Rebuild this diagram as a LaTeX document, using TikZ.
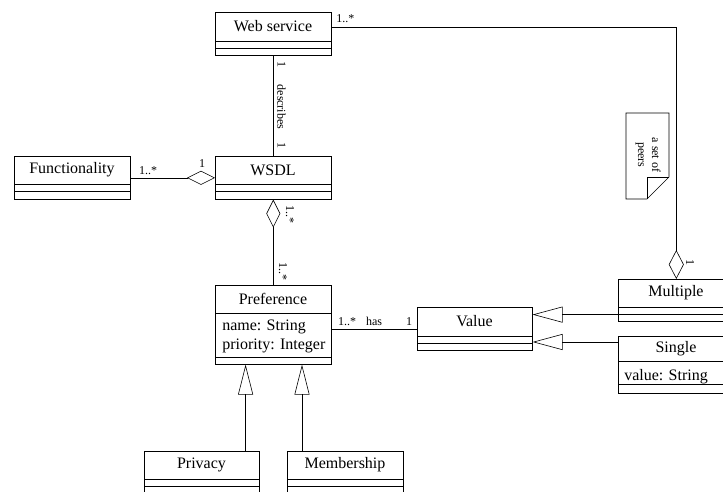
\documentclass[tikz,border=0pt]{standalone}
\usepackage{fontspec}
\setmainfont{Liberation Serif}
\usetikzlibrary{arrows.meta}
% #1 name, #2 left, #3 right, #4 top, #5 div1, #6 div2, #7 bottom, #8 title
\newcommand\umlclass[8]{%
  \node[draw, inner sep=0pt, anchor=north west,
        minimum width=#3-#2, minimum height=#7-#4] (#1) at (#2,#4) {};
  \draw[cdiv] (#2,#5) -- (#3,#5) (#2,#6) -- (#3,#6);
  \node[inner sep=0pt] (#1-t) at ({(#2+#3)/2},{(#4+#5)/2}) {#8};}
\begin{document}
\begin{tikzpicture}[x=1pt, y=-1pt, line width=0.6pt,
  font=\fontsize{16}{19}\selectfont,
  cdiv/.style={line width=0.8pt},
  lbl/.style={font=\fontsize{12}{14}\selectfont, inner sep=0pt},
  rlbl/.style={lbl, rotate=-90},
  attr/.style={inner sep=0pt, anchor=west},
  agg/.style={{Diamond[open,length=28pt,width=14pt]}-},
  aggend/.style={-{Diamond[open,length=28pt,width=14pt]}},
  gen/.style={-{Triangle[open,length=30pt,width=16pt]}}]
\path[use as bounding box, clip] (0,0) rectangle (723,492);

\umlclass{ws}{215}{331}{12}{41}{48}{55}{Web service}
\umlclass{wsdl}{215}{331}{156}{184}{191.5}{199}{WSDL}
\umlclass{func}{14}{130}{156}{184}{191.5}{199}{Functionality}
\umlclass{pref}{215}{331}{285}{313}{357}{364}{Preference}
\node[attr] (pa1) at (222,326.5) {name: String};
\node[attr] (pa2) at (222,346) {priority: Integer};
\umlclass{value}{417}{532}{307}{336}{343}{350}{Value}
\umlclass{mult}{618}{734}{279}{307}{314}{321}{Multiple}
\umlclass{single}{618}{734}{336}{361}{384}{393}{Single}
\node[attr] (sa1) at (624,376.5) {value: String};
\umlclass{priv}{144}{259}{451}{479}{486}{500}{Privacy}
\umlclass{memb}{287}{403}{451}{479}{486}{500}{Membership}

% note
\draw (626,113) -- (669,113) -- (669,177) -- (647,199) -- (626,199) -- cycle;
\draw (669,177) -- (647,177) -- (647,199);
\node[lbl, rotate=-90, align=center] (note) at (648,155) {a set of\\peers};

% connectors
\draw (ws) -- (wsdl);
\draw[aggend] (func) -- (wsdl);
\draw[agg] (wsdl) -- (pref);
\draw (pref.east |- value.west) -- (value.west);
\coordinate (mv) at ([yshift=7pt]mult.south west);
\draw[gen] (mv) -- (value.east |- mv);
\coordinate (sv) at ([yshift=-6pt]single.north west);
\draw[gen] (sv) -- (value.east |- sv);
\coordinate (pp) at ([xshift=-14pt]priv.north east);
\draw[-{Triangle[open,length=30pt,width=15pt]}] (pp) -- (pref.south -| pp);
\coordinate (mp) at ([xshift=15pt]memb.north west);
\draw[-{Triangle[open,length=30pt,width=15pt]}] (mp) -- (pref.south -| mp);
\coordinate (wm) at ([yshift=6.8pt]ws.east);
\draw[-{Diamond[open,length=29pt,width=15pt]}] (wm) -| (mult.north);

% labels
\node[lbl, anchor=west] (l1) at (336,19) {1..*};
\node[rlbl] (l2) at (281.5,65) {1};
\node[rlbl] (l3) at (281.5,107) {describes};
\node[rlbl] (l4) at (281.5,145.5) {1};
\node[lbl] (l5) at (148,171) {1..*};
\node[lbl] (l6) at (202,164) {1};
\node[rlbl] (l7) at (290,214) {1..*};
\node[rlbl] (l8) at (283,271) {1..*};
\node[lbl] (l9) at (347,321.5) {1..*};
\node[lbl] (l10) at (374,321.5) {has};
\node[lbl] (l11) at (409,321.5) {1};
\node[rlbl] (l12) at (690,262) {1};
\end{tikzpicture}
\end{document}
